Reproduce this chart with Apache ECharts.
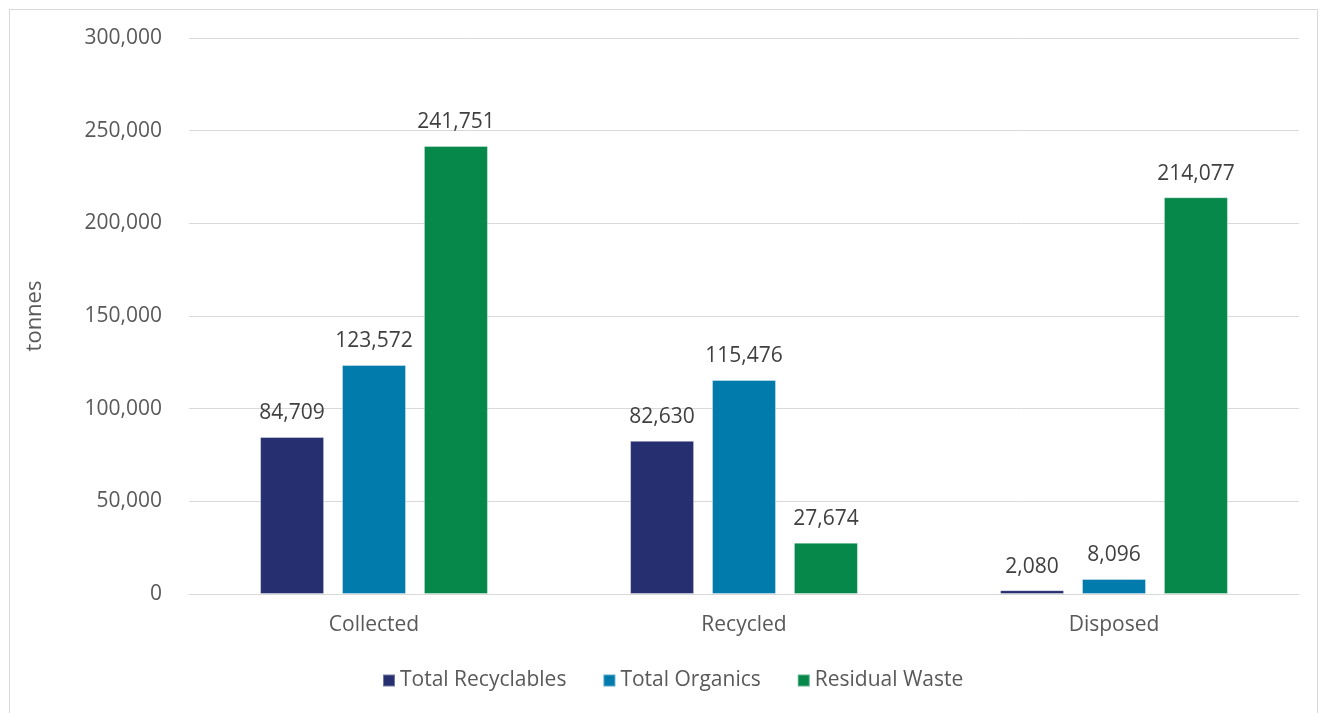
<!DOCTYPE html>
<html>
<head>
<meta charset="utf-8">
<script src="https://cdn.jsdelivr.net/npm/echarts@6/dist/echarts.min.js"></script>
<style>
  html, body { margin: 0; padding: 0; background: #fff; }
  #frame { position: absolute; left: 9px; top: 9px; width: 1309px; height: 720px; border: 1px solid #d9d9d9; box-sizing: border-box; }
  #chart { position: absolute; left: 0; top: 0; width: 1319px; height: 713px; }
</style>
</head>
<body>
<div id="frame"></div>
<div id="chart"></div>
<script>
const categories = ['Collected', 'Recycled', 'Disposed'];
const seriesNames = ['Total Recyclables', 'Total Organics', 'Residual Waste'];
const recyclables = [84709, 82630, 2080];
const organics = [123572, 115476, 8096];
const residual = [241751, 27674, 214077];
const yTicks = [0, 50000, 100000, 150000, 200000, 250000, 300000];

const colors = ['#263070', '#007BAC', '#05884A'];
const fontFamily = '"Open Sans", "Noto Sans", sans-serif';
const fmt = v => v.toLocaleString('en-US');

const chart = echarts.init(document.getElementById('chart'), null, { renderer: 'canvas' });
const mk = (name, data, color) => ({
  name, type: 'bar', data,
  barWidth: 64, barGap: '28%',
  itemStyle: { color, borderColor: 'rgba(255,255,255,0.35)', borderWidth: 1 },
  label: { show: true, position: 'top', distance: 13, color: '#404040', fontSize: 21, fontFamily, formatter: p => fmt(p.value) },
  emphasis: { disabled: true }
});
chart.setOption({
  animation: false,
  color: colors,
  grid: { left: 189, right: 20, top: 38, bottom: 119, containLabel: false },
  legend: {
    data: seriesNames, bottom: 17, left: 377,
    icon: 'rect', itemWidth: 12, itemHeight: 12, itemGap: 36,
    textStyle: { color: '#595959', fontSize: 21, fontFamily }
  },
  xAxis: {
    type: 'category', data: categories,
    axisLine: { lineStyle: { color: '#d9d9d9', width: 1 } },
    axisTick: { show: false },
    axisLabel: { color: '#595959', fontSize: 21, fontFamily, margin: 21 }
  },
  yAxis: {
    type: 'value', min: yTicks[0], max: yTicks[yTicks.length - 1], interval: 50000,
    name: 'tonnes', nameLocation: 'middle', nameGap: 143, nameRotate: 90,
    nameTextStyle: { color: '#595959', fontSize: 22, fontFamily },
    axisLine: { show: false }, axisTick: { show: false },
    axisLabel: { color: '#595959', fontSize: 21, fontFamily, margin: 27, formatter: v => fmt(v) },
    splitLine: { lineStyle: { color: '#d9d9d9', width: 1 } }
  },
  series: [mk(seriesNames[0], recyclables, colors[0]), mk(seriesNames[1], organics, colors[1]), mk(seriesNames[2], residual, colors[2])]
});
</script>
</body>
</html>
